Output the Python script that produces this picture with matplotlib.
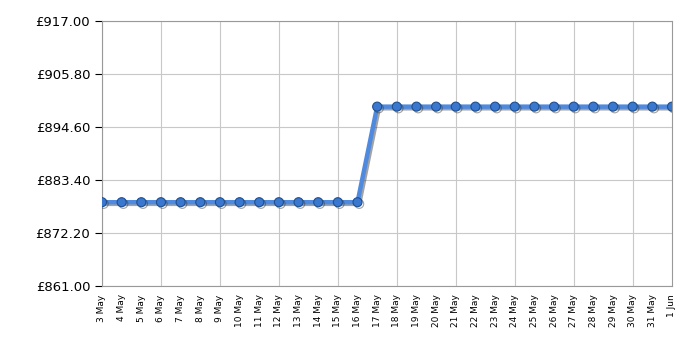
import numpy as np
import matplotlib.pyplot as plt
import matplotlib.patheffects as pe

dates = ['3 May', '4 May', '5 May', '6 May', '7 May', '8 May', '9 May', '10 May',
         '11 May', '12 May', '13 May', '14 May', '15 May', '16 May', '17 May',
         '18 May', '19 May', '20 May', '21 May', '22 May', '23 May', '24 May',
         '25 May', '26 May', '27 May', '28 May', '29 May', '30 May', '31 May', '1 Jun']
prices = [878.70] * 14 + [898.90] * 16
yticks = [861.00, 872.20, 883.40, 894.60, 905.80, 917.00]

fig = plt.figure(figsize=(7, 3.5), dpi=100)
ax = fig.add_axes([0.1457, 0.183, 0.8143, 0.757])
x = np.arange(len(dates))

ax.plot(x, prices, color='#4f8ade', lw=3.2, marker='o', ms=6.5,
        mfc='#3a78d0', mec='#1f4f8f', mew=0.8, zorder=3,
        path_effects=[pe.SimpleLineShadow(offset=(1.2, -1.2), shadow_color='#333333', alpha=0.45),
                      pe.Normal()])

ax.set_xlim(0, len(dates) - 1)
ax.set_ylim(yticks[0], yticks[-1])
ax.set_yticks(yticks)
ax.set_yticklabels(['£%.2f' % v for v in yticks], fontsize=9.5)
ax.set_xticks(x)
ax.set_xticklabels(dates, rotation=90, fontsize=6.5)
ax.tick_params(axis='x', length=0, pad=6)
ax.set_xticks(x[::3], minor=True)
ax.tick_params(axis='x', which='minor', length=4, color='black')
ax.tick_params(axis='y', length=5, color='black')

ax.grid(False)
for v in yticks:
    ax.axhline(v, color='#c8c8c8', lw=0.8, zorder=0)
for v in x[::3]:
    ax.axvline(v, color='#c8c8c8', lw=0.8, zorder=0)
for s in ax.spines.values():
    s.set_color('#999999')

fig.savefig('out.png', dpi=100)
